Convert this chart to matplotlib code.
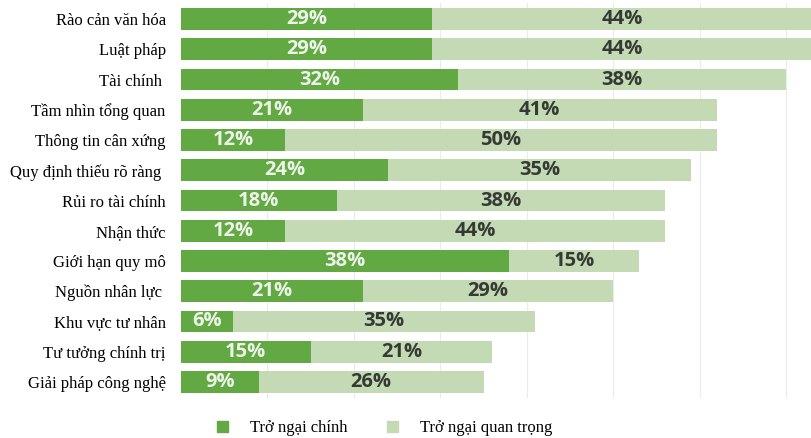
import numpy as np
import matplotlib
matplotlib.use("Agg")
import matplotlib.pyplot as plt
from matplotlib.patches import Patch

# Trở ngại theo từng nhóm (%)
categories = [
    "Rào cản văn hóa", "Luật pháp", "Tài chính ", "Tầm nhìn tổng quan",
    "Thông tin cân xứng", "Quy định thiếu rõ ràng ", "Rủi ro tài chính",
    "Nhận thức", "Giới hạn quy mô", "Nguồn nhân lực ", "Khu vực tư nhân",
    "Tư tưởng chính trị", "Giải pháp công nghệ",
]
chinh = [29, 29, 32, 21, 12, 24, 18, 12, 38, 21, 6, 15, 9]
quan_trong = [44, 44, 38, 41, 50, 35, 38, 44, 15, 29, 35, 21, 26]
series_names = ["Trở ngại chính", "Trở ngại quan trọng"]

dark = "#62a843"
light = "#c3dab4"

fig = plt.figure(figsize=(8.12, 4.38), dpi=100)
ax = fig.add_axes([0.2229, 0.0913, 0.7771, 0.9018])

y = np.arange(len(categories))
h = 0.72
ax.barh(y, chinh, height=h, color=dark, zorder=2)
ax.barh(y, quan_trong, left=chinh, height=h, color=light, zorder=2)

# nhãn phần trăm giữa mỗi đoạn
for i in range(len(categories)):
    ax.text(chinh[i] / 2, y[i], f"{chinh[i]}%", ha="center", va="center",
            color="#eef3ea", fontsize=14.5, fontweight="bold", family="Open Sans")
    ax.text(chinh[i] + quan_trong[i] / 2, y[i], f"{quan_trong[i]}%", ha="center",
            va="center", color="#363a34", fontsize=14.5, fontweight="bold",
            family="Open Sans")

ax.set_xlim(0, 73)
ax.set_ylim(len(categories) - 0.47, -0.53)
ax.set_xticks(np.arange(10, 80, 10))
ax.xaxis.grid(True, color="#ebebeb", linewidth=0.8, zorder=0)
ax.tick_params(axis="x", length=0, labelbottom=False)
ax.tick_params(axis="y", length=0, pad=11)
ax.set_yticks(y)
ax.set_yticklabels(categories, family="Liberation Serif", fontsize=12)
for s in ax.spines.values():
    s.set_visible(False)

handles = [Patch(color=dark), Patch(color=light)]
fig.legend(handles, series_names, loc="center", bbox_to_anchor=(0.474, 0.022),
           ncol=2, frameon=False, handlelength=0.65, handleheight=0.65,
           handletextpad=1.3, columnspacing=2.4,
           prop={"family": "Liberation Serif", "size": 12})

fig.savefig("out.png", dpi=100)
